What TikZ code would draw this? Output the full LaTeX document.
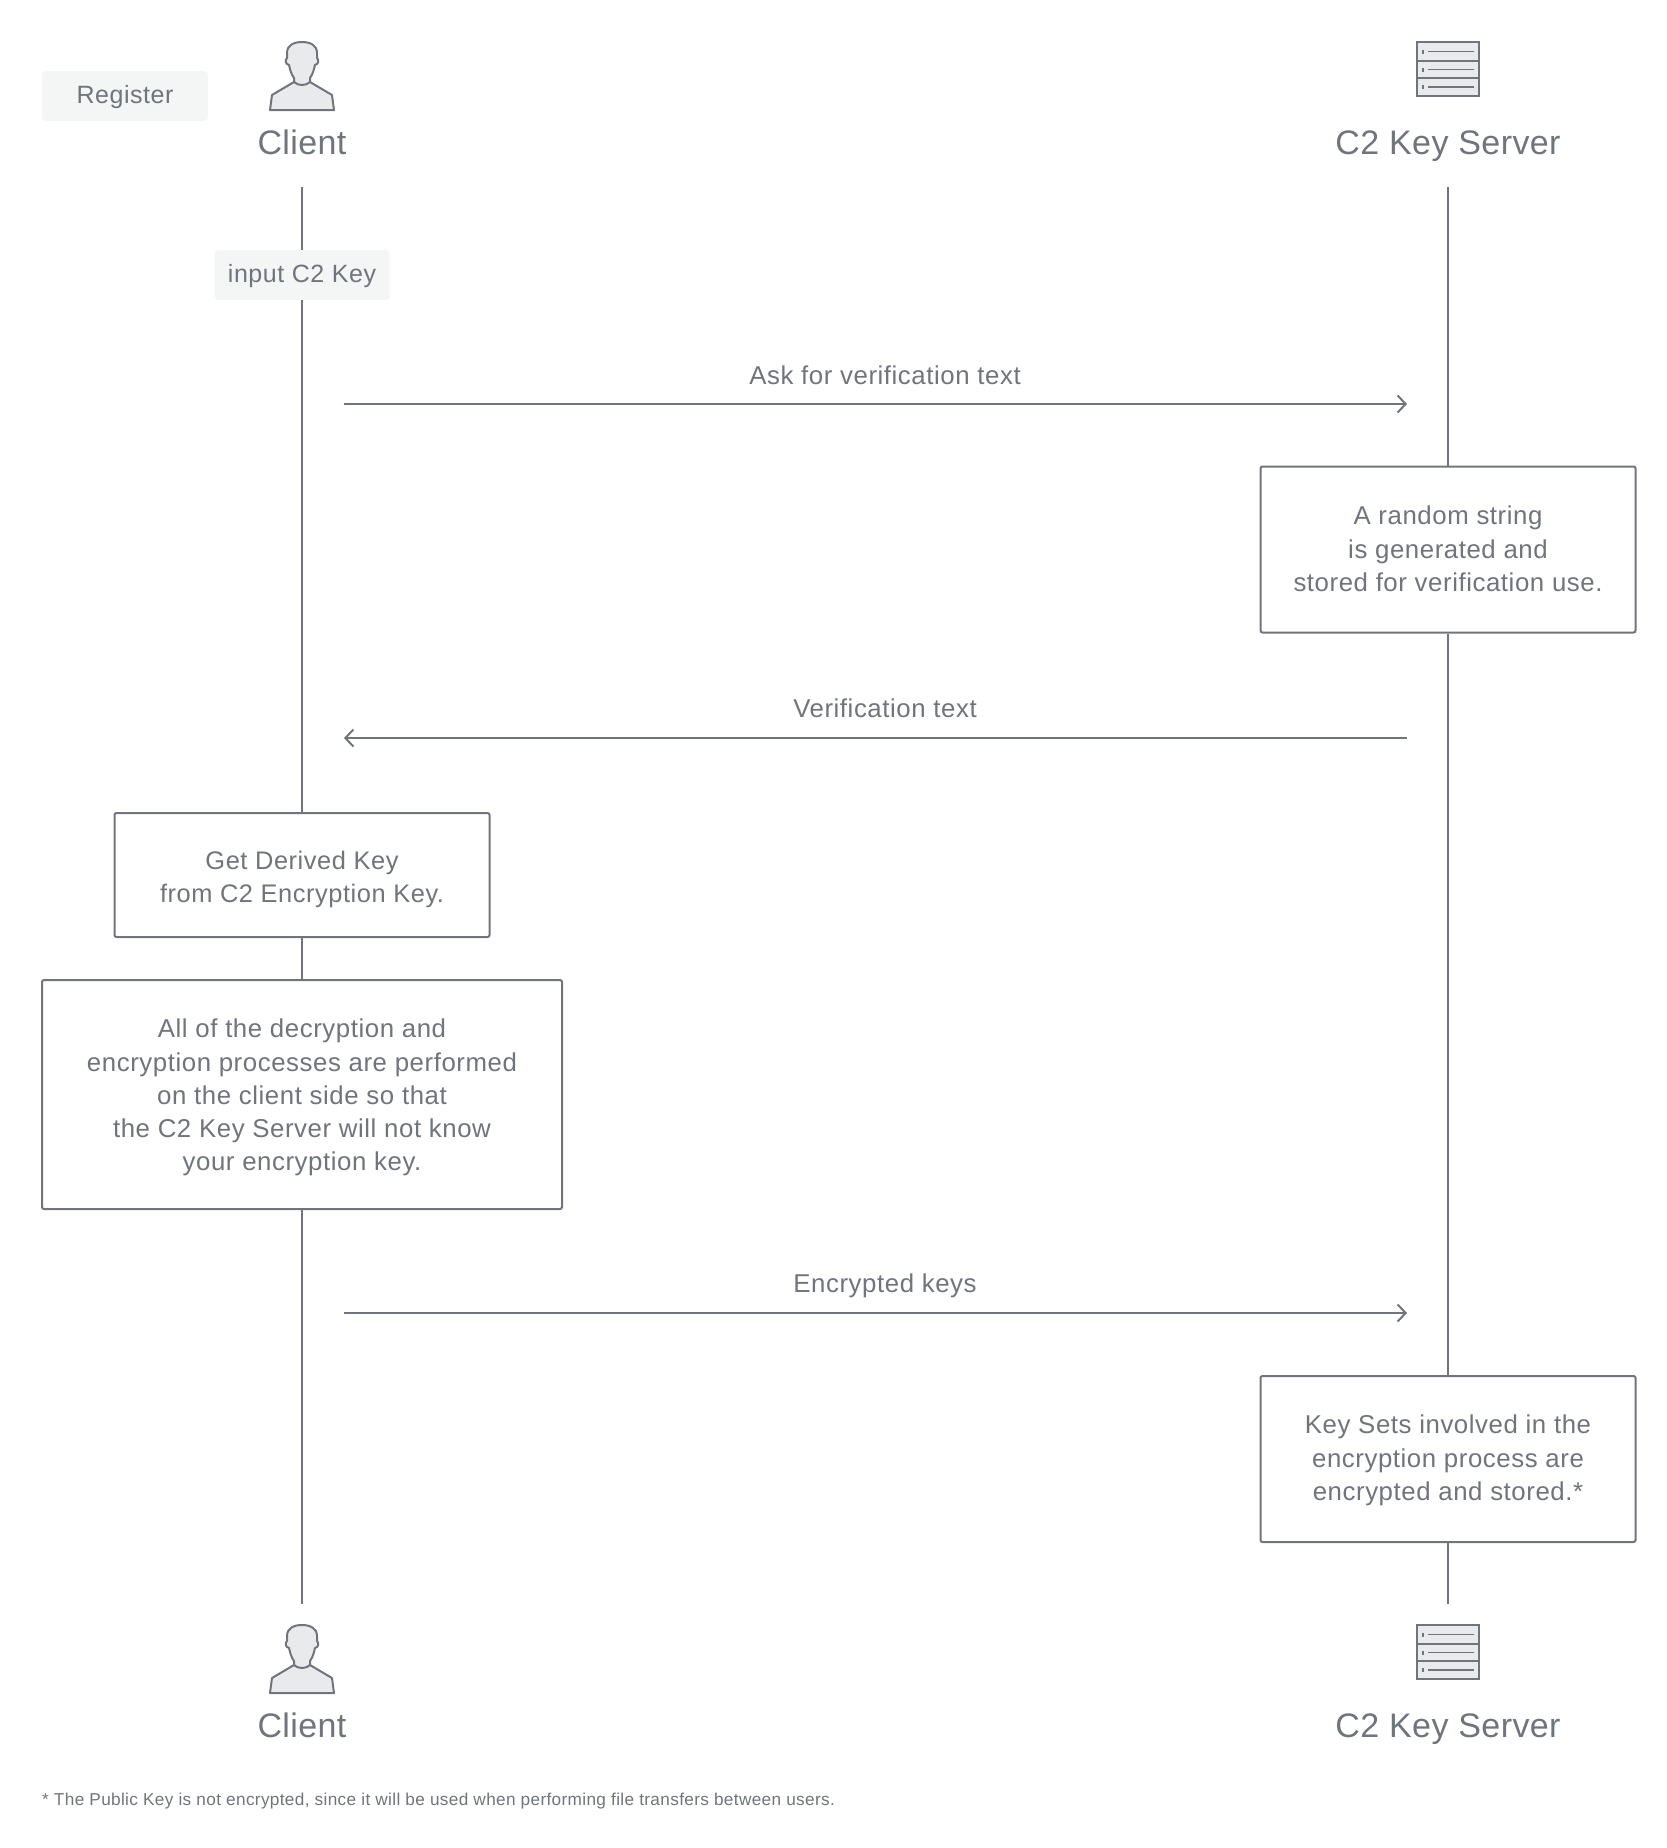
\documentclass[tikz,border=0pt]{standalone}
\usepackage{fontspec}
\setmainfont{Liberation Sans}
\usetikzlibrary{arrows.meta}
\definecolor{inkgrey}{HTML}{71747C}
\definecolor{txtgrey}{HTML}{70747C}
\definecolor{taggrey}{HTML}{F4F5F5}
\definecolor{icongrey}{HTML}{E9EAEC}
\newcommand{\dropline}[1]{\rule{0pt}{#1pt}}
\tikzset{
  base/.style={text=txtgrey,font=\fontsize{25.8}{33.3}\selectfont\addfontfeature{LetterSpace=2.2},align=center,inner sep=0pt,
    execute at begin node=\strut,execute at end node=\strut},
  tight/.style={font=\fontsize{25}{33.3}\selectfont\addfontfeature{LetterSpace=2.2}},
  notebox/.style={base,draw=inkgrey,line width=2pt,rounded corners=2pt,fill=white,minimum width=375pt},
  tagbox/.style={base,tight,fill=taggrey,rounded corners=4pt,minimum height=50pt},
  actor/.style={base,font=\fontsize{34}{40}\selectfont\addfontfeature{LetterSpace=1.2}},
  msg/.style={draw=inkgrey,line width=2pt,-{Straight Barb[length=8pt,width=17pt,line width=2pt]}},
  lifeline/.style={draw=inkgrey,line width=2pt},
  clientpic/.pic={
    \draw[draw=inkgrey,fill=icongrey,line width=2pt,line join=round]
      (-32,68)--(-30,53)--(-8,40)--(-8,36)..controls (-11,32) and (-12,27)..(-13,23)
      ..controls (-17,22) and (-17,18)..(-15,16)--(-15,11)..controls (-15,3) and (-8,0)..(0,0)
      ..controls (8,0) and (15,3)..(15,11)--(15,16)..controls (17,18) and (17,22)..(13,23)
      ..controls (12,27) and (11,32)..(8,36)--(8,40)--(30,53)--(32,68)--cycle;
    \draw[draw=inkgrey,line width=2pt] (-8,40)..controls (-4,44) and (4,44)..(8,40);
  },
  serverpic/.pic={
    \draw[draw=inkgrey,fill=icongrey,line width=2pt] (-31,0) rectangle (31,54);
    \draw[draw=inkgrey,line width=2pt] (-31,18.5)--(31,18.5) (-31,36)--(31,36);
    \foreach \y in {9.5,27.5,45}{
      \draw[draw=inkgrey,line width=1.5pt] (-25,\y-2)--(-25,\y+2) (-20,\y)--(26,\y);
    }
  }
}
\begin{document}
\begin{tikzpicture}[x=1pt,y=-1pt]
  \useasboundingbox (0,0) rectangle (1667,1848);
  % actors
  \pic at (302,42) {clientpic};
  \pic at (1448,42) {serverpic};
  \pic at (302,1625) {clientpic};
  \pic at (1448,1625) {serverpic};
  \node[actor] (clientA) at (302,146.7) {Client};
  \node[actor] (serverA) at (1448,146.7) {C2 Key Server};
  \node[actor] (clientB) at (302,1729.7) {Client};
  \node[actor] (serverB) at (1448,1729.7) {C2 Key Server};
  \node[tagbox,minimum width=166pt] (register) at (125,96) {\dropline{25.7}Register};
  \node[tagbox,minimum width=175pt] (input) at (302,275) {\dropline{25.7}input C2 Key};
  % notes
  \node[notebox,minimum height=166pt] (random) at (1448,549.5) {\dropline{27.5}A random string\\is generated and\\stored for verification use.};
  \node[notebox,font=\fontsize{25.4}{33.3}\selectfont\addfontfeature{LetterSpace=2.2},minimum height=124pt] (derived) at (302,875) {\dropline{32.6}Get Derived Key\\from C2 Encryption Key.};
  \node[notebox,minimum width=520pt,minimum height=229pt] (decrypt) at (302,1094.5) {\dropline{29.6}All of the decryption and\\encryption processes are performed\\on the client side so that\\the C2 Key Server will not know\\your encryption key.};
  \node[notebox,minimum height=166pt] (keysets) at (1448,1459) {\dropline{26}Key Sets involved in the\\encryption process are\\encrypted and stored.*};
  % lifelines
  \coordinate (clientTop) at (302,187);
  \coordinate (clientEnd) at (302,1604);
  \coordinate (serverTop) at (1448,187);
  \coordinate (serverEnd) at (1448,1604);
  \draw[lifeline] (clientTop)--(input)--(derived)--(decrypt)--(clientEnd);
  \draw[lifeline] (serverTop)--(random)--(keysets)--(serverEnd);
  % messages
  \coordinate (askL) at (344,404);
  \coordinate (askR) at (1407,404);
  \coordinate (verL) at (344,738);
  \coordinate (verR) at (1407,738);
  \coordinate (encL) at (344,1313);
  \coordinate (encR) at (1407,1313);
  \draw[msg] (askL)--(askR);
  \draw[msg] (verR)--(verL);
  \draw[msg] (encL)--(encR);
  \node[base] (askT) at (885,378) {Ask for verification text};
  \node[base] (verT) at (885,711) {Verification text};
  \node[base] (encT) at (885,1285.8) {Encrypted keys};
  % footnote
  \node[base,anchor=west,font=\fontsize{17.2}{20}\selectfont\addfontfeature{LetterSpace=2}] (note) at (42,1801) {* The Public Key is not encrypted, since it will be used when performing file transfers between users.};
\end{tikzpicture}
\end{document}
